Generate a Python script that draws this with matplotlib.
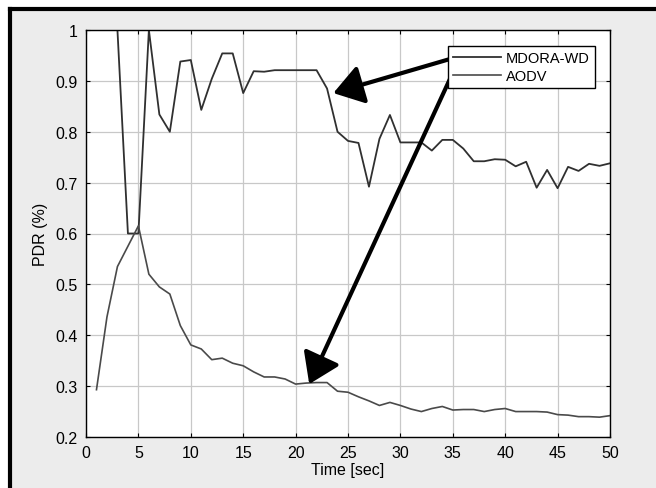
import numpy as np
import matplotlib
matplotlib.use("Agg")
import matplotlib.pyplot as plt
from matplotlib.patches import Rectangle
from matplotlib.lines import Line2D

plt.rcParams['font.family'] = ['Liberation Sans', 'DejaVu Sans']

# data
time_sec = list(range(1, 51))
mdora_wd = [1.0, 1.0, 1.0, 0.6, 0.6, 1.0, 0.834, 0.80, 0.938, 0.941,
            0.843, 0.904, 0.954, 0.954, 0.876, 0.919, 0.918, 0.921, 0.921, 0.921,
            0.921, 0.921, 0.885, 0.80, 0.782, 0.778, 0.692, 0.786, 0.833, 0.779,
            0.779, 0.779, 0.763, 0.784, 0.784, 0.767, 0.742, 0.742, 0.746, 0.745,
            0.732, 0.741, 0.69, 0.725, 0.689, 0.731, 0.723, 0.737, 0.733, 0.738]
aodv = [0.293, 0.436, 0.535, 0.575, 0.615, 0.52, 0.495, 0.481, 0.419, 0.381,
        0.373, 0.352, 0.355, 0.345, 0.34, 0.328, 0.318, 0.318, 0.314, 0.304,
        0.306, 0.307, 0.307, 0.29, 0.288, 0.279, 0.271, 0.262, 0.268, 0.262,
        0.255, 0.25, 0.256, 0.26, 0.253, 0.254, 0.254, 0.25, 0.254, 0.256,
        0.25, 0.25, 0.25, 0.249, 0.244, 0.243, 0.24, 0.24, 0.239, 0.242]
x_ticks = list(range(0, 51, 5))
y_ticks = [0.2, 0.3, 0.4, 0.5, 0.6, 0.7, 0.8, 0.9, 1.0]
y_tick_labels = ['0.2', '0.3', '0.4', '0.5', '0.6', '0.7', '0.8', '0.9', '1']

W, H = 656, 489
fig = plt.figure(figsize=(W / 100, H / 100), dpi=100)
fig.patch.set_facecolor('white')

# gray panel with black frame on top/left
fig.add_artist(Rectangle((12 / W, 0), 1 - 12 / W, 1 - 12 / H,
                         transform=fig.transFigure, facecolor='#ececec',
                         edgecolor='none', zorder=0))
fig.add_artist(Line2D([9.5 / W, 1], [1 - 10 / H, 1 - 10 / H],
                      transform=fig.transFigure, color='black', lw=3))
fig.add_artist(Line2D([9.5 / W, 9.5 / W], [0, 1 - 10 / H],
                      transform=fig.transFigure, color='black', lw=3))

ax = fig.add_axes([86 / W, 1 - 438 / H, 524 / W, 407 / H])
ax.set_facecolor('white')
ax.plot(time_sec, mdora_wd, color='#303030', lw=1.3, label='MDORA-WD')
ax.plot(time_sec, aodv, color='#4a4a4a', lw=1.2, label='AODV')

ax.set_xlim(0, 50)
ax.set_ylim(0.2, 1.0)
ax.set_xticks(x_ticks)
ax.set_yticks(y_ticks)
ax.set_yticklabels(y_tick_labels)
ax.grid(True, color='#c8c8c8', lw=0.9)
ax.set_axisbelow(True)
ax.tick_params(direction='in', top=True, right=True, length=3, width=0.8,
               labelsize=11.5, pad=6)
for s in ax.spines.values():
    s.set_linewidth(1.0)
    s.set_color('black')

ax.set_xlabel('Time [sec]', fontsize=11.5, labelpad=1)
ax.set_ylabel('PDR (%)', fontsize=11.5, labelpad=5)

leg = ax.legend(loc='upper right', bbox_to_anchor=(0.971, 0.961), fontsize=10.5,
                handlelength=3.3, handletextpad=0.3, labelspacing=0.3,
                borderpad=0.35, borderaxespad=0, fancybox=False, framealpha=1)
leg.get_frame().set_edgecolor('black')
leg.get_frame().set_linewidth(1.0)

# arrows from the legend to the curves
arrow = dict(arrowstyle='-|>,head_length=0.9,head_width=0.6', color='black',
             lw=3, mutation_scale=20, shrinkA=0, shrinkB=0)
ax.annotate('', xy=(23.6, 0.876), xytext=(34.9, 0.944), arrowprops=arrow)
ax.annotate('', xy=(21.3, 0.304), xytext=(34.8, 0.907), arrowprops=arrow)

fig.savefig('out.png', dpi=100)
